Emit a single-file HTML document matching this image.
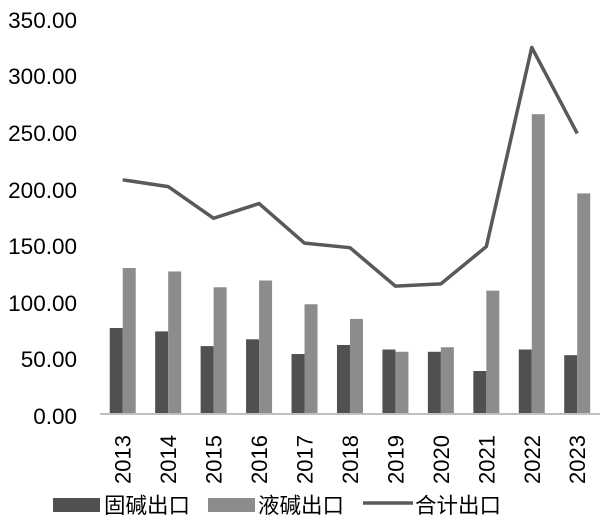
<!DOCTYPE html>
<html><head><meta charset="utf-8"><style>
html,body{margin:0;padding:0;background:#fff;}
svg{display:block;font-family:"Liberation Sans","Noto Sans CJK SC",sans-serif;}
</style></head><body>
<svg width="605" height="522" xmlns="http://www.w3.org/2000/svg">
<g font-size="22.5" fill="#000" text-anchor="end">
<text x="77" y="424">0.00</text>
<text x="77" y="367">50.00</text>
<text x="77" y="311">100.00</text>
<text x="77" y="254">150.00</text>
<text x="77" y="198">200.00</text>
<text x="77" y="141">250.00</text>
<text x="77" y="84">300.00</text>
<text x="77" y="28">350.00</text>
</g>
<g id="bars"></g>
<line x1="100" y1="414" x2="600" y2="414" stroke="#bfbfbf" stroke-width="2"/>
<polyline id="ln" fill="none" stroke="#595959" stroke-width="3.5" stroke-linejoin="round"/>
<g id="lbl" font-size="22"></g>
<rect x="53" y="498" width="47" height="14" fill="#505050"/>
<text x="104" y="513" font-size="21.5">固碱出口</text>
<rect x="208" y="498" width="47" height="14" fill="#8c8c8c"/>
<text x="258" y="513" font-size="21.5">液碱出口</text>
<line x1="363" y1="503" x2="413" y2="503" stroke="#595959" stroke-width="3.5"/>
<text x="415" y="513" font-size="21.5">合计出口</text>
</svg>
<script>
var d=[76,73,60,66,53,61,57,55,38,57,52],l=[129,126,112,118,97,84,55,59,109,265,195],t=[207,201,173,186,151,147,113,115,148,324,248];
var ns="http://www.w3.org/2000/svg",b=document.getElementById("bars"),g=document.getElementById("lbl"),pts=[];
function y(v){return 414-v*1.1314;}
for(var i=0;i<11;i++){var c=100+45.45*(i+0.5);
var r=document.createElementNS(ns,"rect");r.setAttribute("x",c-13);r.setAttribute("y",y(d[i]));r.setAttribute("width",13);r.setAttribute("height",d[i]*1.1314);r.setAttribute("fill","#505050");b.appendChild(r);
r=document.createElementNS(ns,"rect");r.setAttribute("x",c);r.setAttribute("y",y(l[i]));r.setAttribute("width",13);r.setAttribute("height",l[i]*1.1314);r.setAttribute("fill","#8c8c8c");b.appendChild(r);
pts.push(c+","+y(t[i]));
var tx=document.createElementNS(ns,"text");tx.setAttribute("transform","translate("+(c+8)+",484) rotate(-90)");tx.textContent=2013+i;g.appendChild(tx);}
document.getElementById("ln").setAttribute("points",pts.join(" "));
</script>
</body></html>
